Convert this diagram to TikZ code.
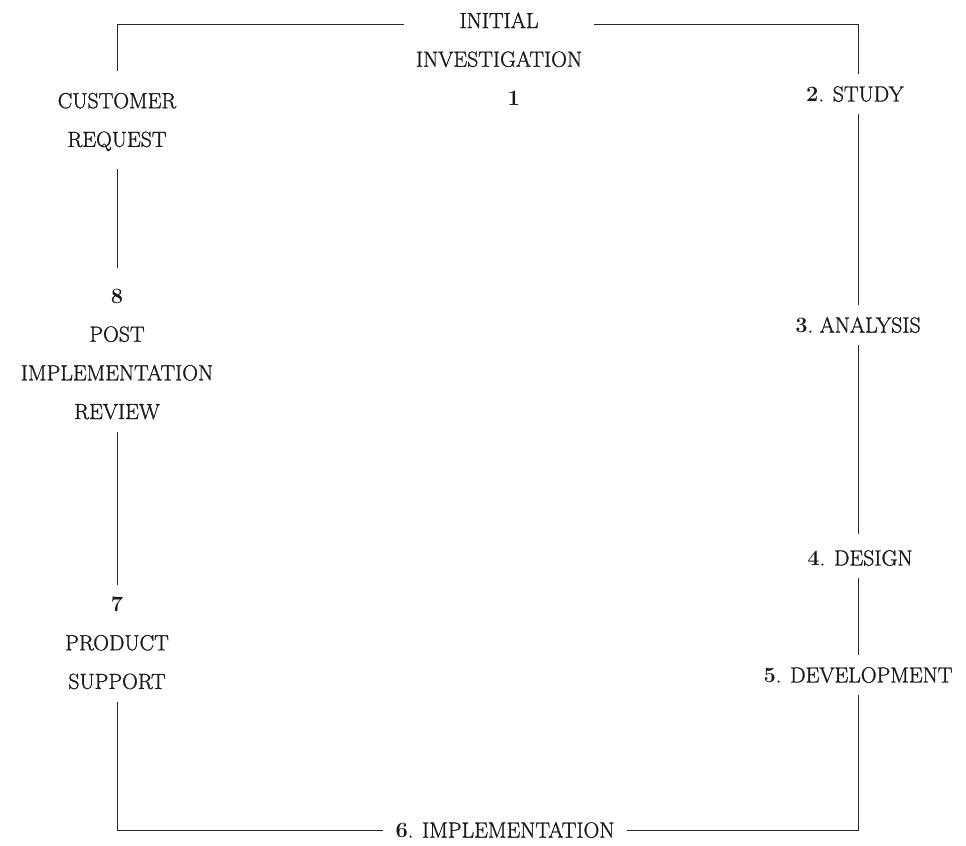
\documentclass[tikz,border=0pt]{standalone}
\usepackage{fontspec}
% slightly heavier roman for the stage names
\newfontfamily\lblfont{Latin Modern Roman}[FakeBold=1.2]
\newcommand{\stagenum}[1]{{\normalfont\bfseries #1}}
\begin{document}
\begin{tikzpicture}[x=0.75pt,y=-0.75pt,
  lbl/.style={font=\lblfont\fontsize{16.4}{29}\selectfont, align=center,
              inner xsep=9pt, inner ysep=9pt, text=black!90},
  link/.style={draw=black!85, line width=0.55pt}]
\useasboundingbox (0,0) rectangle (966,845);

% stages of the cycle
\node[lbl] (init) at (499,59)  {INITIAL\\INVESTIGATION\\\hspace*{22pt}\stagenum{1}};
\node[lbl] (stu)  at (855,94)  {\stagenum{2}. STUDY};
\node[lbl] (ana)  at (858,325) {\stagenum{3}.\ ANALYSIS};
\node[lbl] (des)  at (860,558) {\stagenum{4}. DESIGN};
\node[lbl] (dev)  at (858,675) {\stagenum{5}. DEVELOPMENT};
\node[lbl] (impl) at (505,830) {\stagenum{6}. IMPLEMENTATION};
\node[lbl] (prod) at (117,643) {\stagenum{7}\\PRODUCT\\SUPPORT};
\node[lbl] (post) at (117,354) {\stagenum{8}\\POST\\IMPLEMENTATION\\REVIEW};
\node[lbl] (cust) at (117,122) {CUSTOMER\\REQUEST};

% corners of the loop
\coordinate (tl) at (117,24);
\coordinate (tr) at (858,24);
\coordinate (bl) at (117,830);
\coordinate (br) at (858,830);

% connectors
\draw[link, shorten <=7pt] (cust.north) -- (tl) -- (init.west |- tl);
\draw[link] (init.east |- tr) -- (tr) -- (stu.north -| tr);
\draw[link] (stu.south -| tr) -- (ana.north -| tr);
\draw[link, shorten >=3pt] (ana.south -| tr) -- (des.north -| tr);
\draw[link] (des.south -| tr) -- (dev.north -| tr);
\draw[link] (dev.south -| tr) -- (br) -- (impl.east);
\draw[link] (impl.west) -- (bl) -- (prod.south);
\draw[link] (prod.north) -- (post.south);
\draw[link, shorten <=6pt, shorten >=4pt] (post.north) -- (cust.south);
\end{tikzpicture}
\end{document}
